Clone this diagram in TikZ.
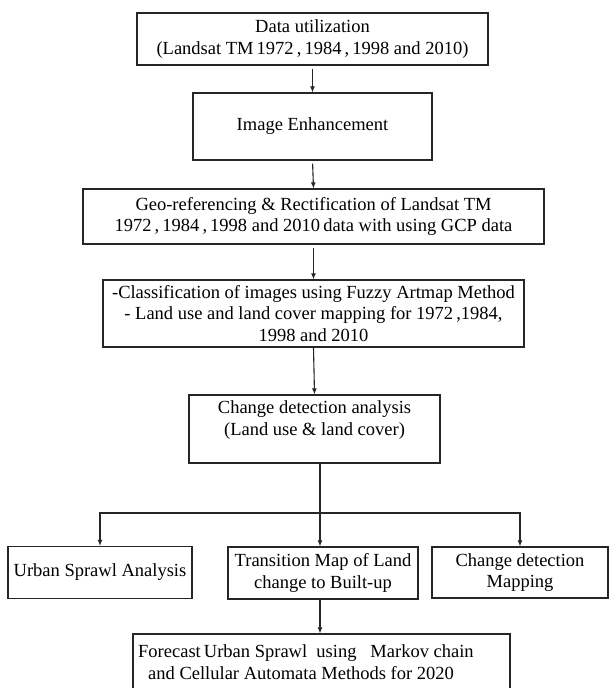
\documentclass[tikz,border=0pt]{standalone}
\usepackage{fontspec}
\setmainfont{Liberation Serif}
\usetikzlibrary{arrows.meta,calc}
\begin{document}
\begin{tikzpicture}[x=1pt,y=-1pt,
  box/.style={draw=black!85,line width=1.2pt,inner sep=0pt,align=center,
    font=\fontsize{18.5}{21.5}\selectfont},
  arr/.style={draw=black!85,line width=1.1pt,-{Latex[length=6pt,width=5pt]}},
  ln/.style={draw=black!85,line width=1.1pt}]
\clip (0,0) rectangle (610,688);
\fill[white] (0,0) rectangle (610,688);

\node[box,minimum width=351pt,minimum height=52pt] (b1) at (312.5,39)
  {Data utilization\\(Landsat TM\,1972\,,\,1984\,,\,1998 and 2010)};
\node[box,minimum width=239pt,minimum height=67pt] (b2) at (312.5,126.5)
  {Image Enhancement};
\node[box,minimum width=461pt,minimum height=55pt] (b3) at (313.5,216.5)
  {Geo-referencing \& Rectification of Landsat TM\\1972\,,\,1984\,,\,1998 and 2010\,data with using GCP data};
\node[box,minimum width=421pt,minimum height=67pt] (b4) at (313.5,313.5)
  {-Classification of images using Fuzzy Artmap Method\\- Land use and land cover mapping for 1972\,,1984,\\1998 and 2010};
\node[box,minimum width=251pt,minimum height=68pt] (b5) at (314.5,429)
  {Change detection analysis\\(Land use \& land cover)\\\mbox{}};
\node[box,minimum width=184pt,minimum height=52pt] (l) at (100,572.5)
  {Urban Sprawl Analysis};
\node[box,minimum width=190pt,minimum height=52pt] (m) at (323,573)
  {Transition Map of Land\\change to Built-up};
\node[box,minimum width=176pt,minimum height=51pt] (r) at (520,572.5)
  {Change detection\\Mapping};
\node[box,minimum width=377pt,minimum height=66pt] (bot) at (321.5,667) {};
\node[anchor=west,inner sep=0pt,align=left,font=\fontsize{18.5}{21.5}\selectfont] (bt) at (138,662)
  {Forecast\,Urban Sprawl\ \ using\ \ \ Markov\ chain\\[0pt]\hspace{10pt}and Cellular Automata Methods for 2020};

\coordinate (j) at (320,513);
\draw[arr,shorten <=3pt] (b1.south) -- (b2.north);
\draw[arr,shorten <=3pt] (b2.south) -- (b3.north);
\draw[arr,shorten <=3pt] (b3.south) -- (b4.north);
\draw[arr] (b4.south) -- (b5.north);
\draw[ln] (b5.south -| j) -- (j);
\draw[arr] (j) -| (l.north);
\draw[arr] (j) -| (r.north);
\draw[arr] (j) -- (j |- m.north);
\draw[arr] (m.south -| j) -- (j |- bot.north);
\end{tikzpicture}
\end{document}
